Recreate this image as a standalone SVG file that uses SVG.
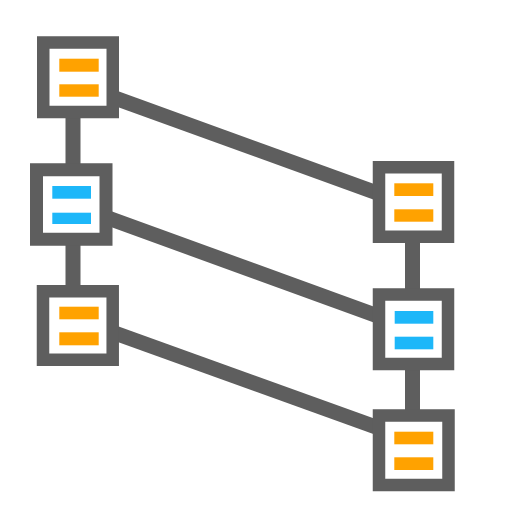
<svg xmlns="http://www.w3.org/2000/svg" width="512" height="512" viewBox="0 0 512 512">
<style>
.box{fill:#fff;stroke:#5e5e5e;stroke-width:12.5}
.ln{stroke:#5e5e5e;stroke-width:15;fill:none}
.o{fill:#ffa200}
.b{fill:#1db7f9}
</style>
<rect width="512" height="512" fill="#fff"/>
<g id="connectors">
<line class="ln" x1="73" y1="77" x2="73" y2="325"/>
<line class="ln" x1="412.5" y1="202" x2="412.5" y2="450"/>
<line class="ln" x1="78" y1="84.6" x2="413" y2="206"/>
<line class="ln" x1="71" y1="204.5" x2="413.5" y2="329"/>
<line class="ln" x1="78" y1="319.7" x2="414" y2="440.8"/>
</g>
<g id="node-left-1">
<rect class="box" x="43.25" y="42.5" width="69.5" height="69.5"/>
<rect class="o" x="59.3" y="58.7" width="39.4" height="13"/>
<rect class="o" x="59.3" y="84.3" width="39.4" height="12.4"/>
</g>
<g id="node-left-2">
<rect class="box" x="36.5" y="169.75" width="69.5" height="69.5" style="stroke-width:13"/>
<rect class="b" x="52.3" y="186" width="38.7" height="12.7"/>
<rect class="b" x="52.3" y="212.7" width="38.7" height="11.3"/>
</g>
<g id="node-left-3">
<rect class="box" x="43" y="291.25" width="69.7" height="68.5"/>
<rect class="o" x="59.3" y="306.7" width="39.4" height="12.6"/>
<rect class="o" x="59.3" y="332.3" width="39.4" height="13"/>
</g>
<g id="node-right-1">
<rect class="box" x="379" y="167.25" width="69" height="69.5"/>
<rect class="o" x="394.3" y="183.3" width="39" height="12.7"/>
<rect class="o" x="394.3" y="209.3" width="39" height="12.4"/>
</g>
<g id="node-right-2">
<rect class="box" x="379" y="294.5" width="69" height="69.5"/>
<rect class="b" x="394.7" y="311" width="38.6" height="12.7"/>
<rect class="b" x="394.7" y="336.7" width="38.6" height="12.6"/>
</g>
<g id="node-right-3">
<rect class="box" x="379" y="415.5" width="69.5" height="69.5"/>
<rect class="o" x="394.3" y="431.7" width="39" height="12.6"/>
<rect class="o" x="394.3" y="457.3" width="39" height="12.7"/>
</g>
</svg>
